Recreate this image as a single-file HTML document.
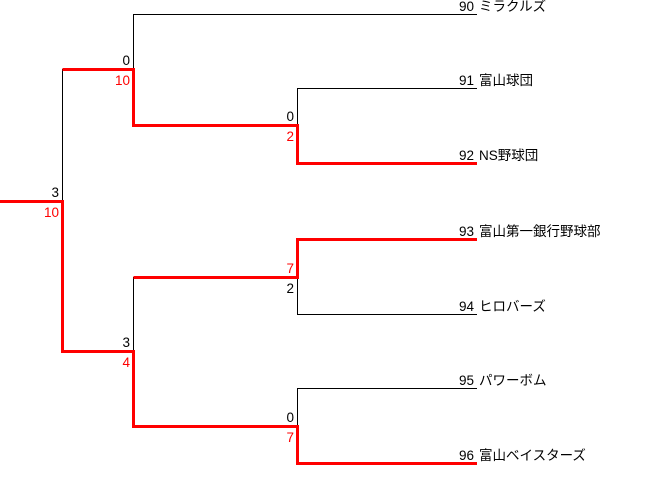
<!DOCTYPE html>
<html><head><meta charset="utf-8"><style>
html,body{margin:0;padding:0;background:#fff;}
svg{display:block;}
text{font-family:"Liberation Sans","Noto Sans CJK JP",sans-serif;font-size:13.5px;}
.s{font-size:13.5px;}
</style></head><body>
<svg width="648" height="489" viewBox="0 0 648 489" xmlns="http://www.w3.org/2000/svg">
<g stroke="#000" stroke-width="1" fill="none" shape-rendering="crispEdges">
<line x1="62.5" y1="69" x2="62.5" y2="201"/>
<line x1="133.5" y1="14" x2="133.5" y2="69"/>
<line x1="133" y1="14.5" x2="477" y2="14.5"/>
<line x1="297.5" y1="88" x2="297.5" y2="125"/>
<line x1="297" y1="88.5" x2="477" y2="88.5"/>
<line x1="133.5" y1="277" x2="133.5" y2="351"/>
<line x1="297.5" y1="277" x2="297.5" y2="314"/>
<line x1="297" y1="314.5" x2="477" y2="314.5"/>
<line x1="297.5" y1="388" x2="297.5" y2="426"/>
<line x1="297" y1="388.5" x2="477" y2="388.5"/>
</g>
<g stroke="#f00" stroke-width="3" fill="none" shape-rendering="crispEdges">
<polyline points="0,201.5 62.5,201.5 62.5,351.5 133.5,351.5 133.5,426.5 297.5,426.5 297.5,463.5 477,463.5"/>
<polyline points="62.5,69.5 133.5,69.5 133.5,125.5 297.5,125.5 297.5,163.5 477,163.5"/>
<polyline points="133.5,277.5 297.5,277.5 297.5,239.5 477,239.5"/>
</g>
<g text-anchor="end">
<text x="59" y="197" fill="#000" class="s">3</text>
<text x="59" y="217" fill="#f00" class="s">10</text>
<text x="130" y="65" fill="#000" class="s">0</text>
<text x="130" y="85" fill="#f00" class="s">10</text>
<text x="294" y="121" fill="#000" class="s">0</text>
<text x="294" y="141" fill="#f00" class="s">2</text>
<text x="130" y="347" fill="#000" class="s">3</text>
<text x="130" y="367" fill="#f00" class="s">4</text>
<text x="294" y="273" fill="#f00" class="s">7</text>
<text x="294" y="293" fill="#000" class="s">2</text>
<text x="294" y="422" fill="#000" class="s">0</text>
<text x="294" y="442" fill="#f00" class="s">7</text>
</g>
<g text-anchor="end" fill="#000">
<text x="474" y="11">90</text>
<text x="474" y="85">91</text>
<text x="474" y="160">92</text>
<text x="474" y="236">93</text>
<text x="474" y="311">94</text>
<text x="474" y="385">95</text>
<text x="474" y="460">96</text>
</g>
<g fill="#000">
<text x="479" y="11">ミラクルズ</text>
<text x="479" y="85">富山球団</text>
<text x="479" y="160">NS野球団</text>
<text x="479" y="236">富山第一銀行野球部</text>
<text x="479" y="311">ヒロバーズ</text>
<text x="479" y="385">パワーボム</text>
<text x="479" y="460">富山ベイスターズ</text>
</g>
</svg>
</body></html>
